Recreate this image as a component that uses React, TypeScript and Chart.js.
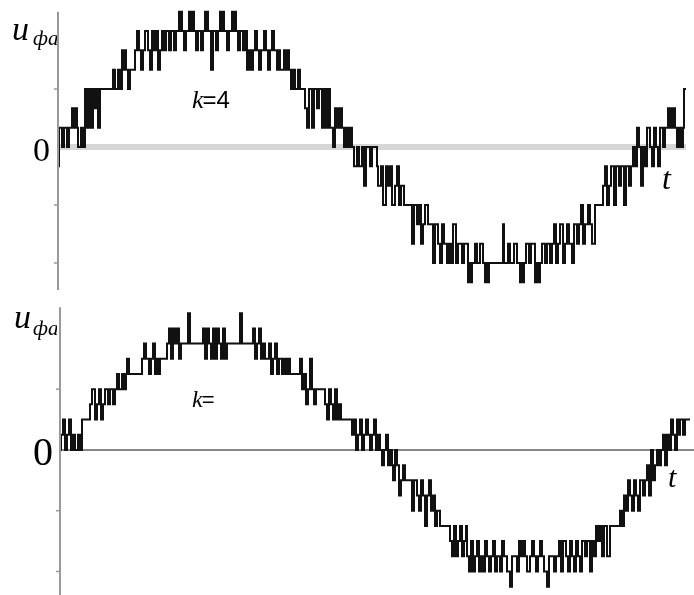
import { useEffect, useRef } from "react";
import { Chart, registerables } from "chart.js";

Chart.register(...registerables);

// Upper panel (k=4): [time, level] change points of the stepped phase voltage
const TOP_WAVE: [number, number][] = [
  [0, -1], [1, 1], [4, 0], [6, 1], [9, 0], [11, 1], [14, 2], [16, 1], [17, 2], [19, 1], [20, 0], [23, 1], [25, 0],
  [27, 3], [29, 1], [31, 3], [33, 1], [35, 3], [37, 2], [39, 3], [40, 1], [42, 3],
  [55, 4], [57, 3], [60, 4], [62, 3], [64, 5], [66, 4], [67, 5], [68, 4], [70, 3], [72, 4],
  [77, 5], [79, 6], [81, 5], [83, 4], [85, 5], [87, 6], [90, 5], [92, 4], [94, 6], [96, 5], [98, 6], [100, 4], [102, 5], [104, 6], [106, 5],
  [108, 6], [111, 5], [113, 6], [116, 5], [118, 6], [121, 7], [122, 6], [123, 7], [124, 6], [126, 5], [128, 6],
  [131, 7], [133, 6], [134, 7], [136, 6], [138, 5], [140, 6], [143, 5],
  [145, 6], [147, 7], [148, 6], [149, 7], [150, 6], [153, 4], [155, 6], [158, 5], [160, 6], [162, 7], [164, 6], [165, 7], [166, 6],
  [169, 5], [171, 6], [174, 7], [176, 6], [177, 7], [178, 6], [180, 5],
  [182, 6], [185, 5], [187, 6], [189, 4], [191, 5], [193, 4], [195, 5], [197, 6], [199, 5], [201, 4], [203, 5], [206, 6], [208, 5], [210, 4],
  [212, 5], [214, 6], [216, 5], [219, 4], [221, 5], [222, 4], [226, 5], [228, 4], [229, 5], [231, 4], [233, 3], [235, 4], [237, 3], [240, 4],
  [242, 3], [247, 2], [249, 1], [251, 3], [254, 1], [256, 3], [259, 2], [261, 3], [264, 1], [266, 3], [268, 1], [270, 3],
  [272, 1], [275, 0], [277, 2], [279, 1], [280, 2], [282, 1], [283, 2], [284, 1], [286, 0], [288, 1], [290, 0], [292, 1],
  [294, 0], [296, -1], [299, 0], [301, -1], [304, 0], [306, -2], [308, 0], [312, -1], [314, 0],
  [319, -1], [320, -2], [323, -1], [325, -3], [328, -1], [330, -2], [332, -1], [334, -3], [337, -2], [339, -1], [341, -3], [343, -2],
  [346, -3], [354, -5], [356, -3], [359, -4], [361, -3], [363, -5], [365, -4], [367, -3],
  [370, -4], [375, -6], [377, -4], [380, -5], [382, -6], [384, -4], [386, -5], [389, -6], [391, -5], [393, -6], [395, -4], [398, -6],
  [400, -5], [404, -6], [406, -5], [410, -7], [412, -6], [413, -7], [414, -6], [417, -5], [419, -6], [422, -5], [425, -6],
  [427, -7], [429, -6], [430, -7], [431, -6], [445, -4], [446, -6], [450, -5], [452, -6], [456, -5], [459, -6],
  [462, -7], [464, -6], [465, -7], [466, -6], [468, -5], [471, -6], [473, -5],
  [477, -7], [479, -6], [480, -7], [482, -6], [484, -5], [487, -6], [489, -5], [492, -6],
  [494, -5], [496, -4], [498, -6], [500, -5], [502, -4], [505, -6], [507, -5], [509, -4], [511, -5], [514, -6], [516, -4], [519, -5],
  [521, -4], [523, -3], [525, -5], [527, -4], [530, -3], [532, -4], [534, -5],
  [537, -3], [545, -2], [547, -1], [549, -3], [551, -2], [553, -1], [556, -3], [558, -1], [561, -2], [563, -1], [566, -3], [568, -1], [571, -2], [573, -1],
  [575, 0], [577, -1], [579, 1], [581, 0], [583, -2], [585, 0], [587, -1], [589, 1], [592, 0], [594, -1], [596, 1], [598, 0], [600, -1],
  [602, 1], [605, 0], [607, 1], [610, 2], [612, 1], [613, 2], [615, 1], [616, 2], [617, 1], [619, 0], [621, 1], [623, 0], [625, 1],
  [626, 3], [628, 3],
];

// Lower panel: [time, level] change points
const BOTTOM_WAVE: [number, number][] = [
  [0, 0], [1, 1], [3, 2], [5, 0], [7, 1], [9, 2], [11, 0], [13, 1], [15, 0], [18, 1], [20, 0],
  [22, 2], [30, 3], [32, 4], [35, 2], [37, 3], [39, 4], [41, 2], [43, 3],
  [45, 4], [48, 3], [50, 4], [53, 3], [55, 4], [57, 5], [59, 4], [62, 5], [64, 4], [66, 5], [67, 6], [69, 5],
  [82, 6], [84, 7], [86, 6], [89, 5], [91, 6], [93, 7], [95, 5], [97, 6], [99, 5], [100, 6],
  [107, 7], [109, 8], [111, 6], [113, 8], [115, 7], [117, 8], [119, 6], [121, 7], [128, 9], [130, 7],
  [143, 8], [145, 6], [147, 8], [149, 7], [151, 6], [153, 8], [155, 6], [157, 8], [159, 7], [161, 6], [163, 8], [165, 6],
  [167, 7], [180, 9], [182, 7], [193, 8], [195, 6], [197, 7], [199, 8], [201, 6], [203, 7],
  [205, 6], [209, 7], [211, 5], [213, 6], [215, 7], [217, 5], [219, 6], [222, 5], [224, 6], [226, 5], [228, 6],
  [230, 5], [240, 6], [242, 4], [244, 5], [246, 3], [248, 4], [250, 6], [252, 4], [254, 3],
  [256, 4], [265, 3], [267, 2], [269, 4], [271, 3], [273, 2], [275, 4], [277, 2], [279, 3],
  [281, 2], [292, 1], [294, 2], [296, 0], [298, 1], [300, 2], [302, 0], [304, 1], [306, 2], [308, 1], [310, 0], [312, 1], [314, 2], [316, 0],
  [318, 1], [320, 0], [322, -1], [324, 0], [326, 1], [328, -1], [330, 0], [332, -1],
  [333, -2], [335, 0], [337, -1], [339, -3], [341, -2], [343, -1], [345, -2],
  [352, -4], [354, -2], [357, -3], [359, -4], [361, -2], [363, -3], [365, -5], [367, -3], [369, -2], [371, -4], [373, -3], [375, -5], [377, -4],
  [380, -5], [390, -6], [392, -7], [394, -5], [396, -7], [398, -6], [400, -5], [402, -7], [404, -6], [406, -5],
  [407, -7], [409, -8], [411, -6], [413, -8], [415, -7], [417, -6], [419, -8], [421, -7], [423, -8], [425, -6], [427, -7], [429, -8],
  [431, -7], [433, -6], [435, -8], [437, -7], [440, -8], [442, -6], [444, -7], [447, -8], [450, -9], [452, -7], [455, -7], [457, -8], [459, -6],
  [461, -7], [463, -6], [465, -7], [467, -8], [470, -7], [472, -6], [474, -7], [476, -8], [478, -7], [480, -6], [482, -7], [484, -8],
  [487, -9], [489, -7], [492, -7], [494, -8], [496, -7], [499, -6], [501, -8],
  [503, -6], [506, -7], [508, -8], [510, -6], [512, -7], [514, -8], [516, -6], [518, -7], [520, -8], [522, -6], [525, -7], [527, -6],
  [530, -8], [532, -6], [534, -7], [536, -5], [538, -6], [540, -5], [542, -7], [544, -5], [547, -7], [550, -5],
  [560, -4], [562, -5], [564, -3], [566, -4], [568, -2], [570, -3], [572, -4], [574, -2], [576, -3], [578, -4],
  [580, -2], [583, -3], [585, -2], [587, -1], [589, -3], [591, 0], [593, -2], [595, -1], [597, 0], [599, -1],
  [601, 0], [603, 1], [605, -1], [607, 1], [609, 0], [611, 2], [613, 1], [615, 0], [617, 2], [619, 1],
  [620, 2], [623, 1], [625, 2], [630, 2],
];

const TOP_TICKS = [3, -3, -6];
const BOTTOM_TICKS = [4, -4, -8];
const Y_LABEL = "u";
const Y_SUB = "фа";
const K_LABEL = "k";
const TOP_K_REST = "=4";
const BOTTOM_K_REST = "=";
const T_LABEL = "t";
const ZERO_LABEL = "0";

type Decor = {
  zeroColor: string;
  zeroWidth: number;
  axisTop: number;
  axisBottom: number;
  ticks: number[];
  u: { x: number; y: number; size: number };
  sub: { x: number; y: number; size: number; clip: number };
  zero: { x: number; y: number; size: number };
  k: { x: number; y: number; size: number; rest: string; restSize: number };
  t: { x: number; y: number; size: number };
};

function makePlugin(d: Decor) {
  return {
    id: "decor",
    beforeDatasetsDraw(chart: any) {
      const ctx = chart.ctx as CanvasRenderingContext2D;
      const xs = chart.scales.x;
      const ys = chart.scales.y;
      const y0 = ys.getPixelForValue(0);
      ctx.save();
      ctx.strokeStyle = d.zeroColor;
      ctx.lineWidth = d.zeroWidth;
      ctx.beginPath();
      ctx.moveTo(xs.getPixelForValue(xs.min), y0);
      ctx.lineTo(xs.getPixelForValue(xs.max), y0);
      ctx.stroke();
      ctx.restore();
    },
    afterDatasetsDraw(chart: any) {
      const ctx = chart.ctx as CanvasRenderingContext2D;
      const xs = chart.scales.x;
      const ys = chart.scales.y;
      const ax = xs.getPixelForValue(xs.min);
      ctx.save();
      ctx.strokeStyle = "#9a9a9a";
      ctx.lineWidth = 2;
      ctx.beginPath();
      ctx.moveTo(ax, ys.getPixelForValue(d.axisTop));
      ctx.lineTo(ax, ys.getPixelForValue(d.axisBottom));
      ctx.stroke();
      ctx.lineWidth = 1.5;
      d.ticks.forEach((v) => {
        const py = ys.getPixelForValue(v);
        ctx.beginPath();
        ctx.moveTo(ax - 4, py);
        ctx.lineTo(ax, py);
        ctx.stroke();
      });
      ctx.fillStyle = "#000";
      ctx.textBaseline = "alphabetic";
      ctx.textAlign = "left";
      ctx.font = `italic ${d.u.size}px "Liberation Serif", "DejaVu Serif", serif`;
      ctx.fillText(Y_LABEL, d.u.x, d.u.y);
      ctx.save();
      ctx.beginPath();
      ctx.rect(0, 0, d.sub.clip, chart.height);
      ctx.clip();
      ctx.font = `italic ${d.sub.size}px "Liberation Serif", "DejaVu Serif", serif`;
      ctx.fillText(Y_SUB, d.sub.x, d.sub.y);
      ctx.restore();
      ctx.font = `${d.zero.size}px "Liberation Serif", "DejaVu Serif", serif`;
      ctx.fillText(ZERO_LABEL, d.zero.x, d.zero.y);
      ctx.font = `italic ${d.k.size}px "Liberation Serif", "DejaVu Serif", serif`;
      ctx.fillText(K_LABEL, d.k.x, d.k.y);
      const kw = ctx.measureText(K_LABEL).width;
      ctx.font = `${d.k.restSize}px "Liberation Sans", Arial, sans-serif`;
      ctx.fillText(d.k.rest, d.k.x + kw - 1, d.k.y);
      ctx.font = `italic ${d.t.size}px "Liberation Serif", "DejaVu Serif", serif`;
      ctx.fillText(T_LABEL, d.t.x, d.t.y);
      ctx.restore();
    },
  };
}

function buildChart(
  canvas: HTMLCanvasElement,
  wave: [number, number][],
  xMax: number,
  yMin: number,
  yMax: number,
  padding: { left: number; right: number; top: number; bottom: number },
  lineWidth: number,
  decor: Decor
) {
  return new Chart(canvas, {
    type: "line",
    data: {
      datasets: [
        {
          data: wave.map(([t, v]) => ({ x: t, y: v })),
          stepped: true,
          borderColor: "#111111",
          borderWidth: lineWidth,
          pointRadius: 0,
          fill: false,
          tension: 0,
        },
      ],
    },
    options: {
      animation: false,
      responsive: false,
      devicePixelRatio: 1,
      layout: { padding },
      plugins: { legend: { display: false }, tooltip: { enabled: false }, title: { display: false } },
      scales: {
        x: { type: "linear", min: 0, max: xMax, display: false },
        y: { type: "linear", min: yMin, max: yMax, display: false },
      },
    },
    plugins: [makePlugin(decor)],
  } as any);
}

export default function App() {
  const topRef = useRef<HTMLCanvasElement>(null);
  const botRef = useRef<HTMLCanvasElement>(null);

  useEffect(() => {
    const top = buildChart(
      topRef.current!,
      TOP_WAVE,
      628,
      -7.5,
      7.5,
      { left: 58, right: 8, top: 2, bottom: 3 },
      2,
      {
        zeroColor: "#d6d6d6",
        zeroWidth: 6,
        axisTop: 7.0,
        axisBottom: -7.4,
        ticks: TOP_TICKS,
        u: { x: 12, y: 40, size: 34 },
        sub: { x: 33, y: 45, size: 21, clip: 57 },
        zero: { x: 33, y: 161, size: 34 },
        k: { x: 192, y: 108, size: 26, rest: TOP_K_REST, restSize: 24 },
        t: { x: 662, y: 189, size: 32 },
      }
    );
    const bottom = buildChart(
      botRef.current!,
      BOTTOM_WAVE,
      634,
      -9.55,
      10.2,
      { left: 60, right: 0, top: 0, bottom: 0 },
      2,
      {
        zeroColor: "#888888",
        zeroWidth: 2,
        axisTop: 9.4,
        axisBottom: -9.55,
        ticks: BOTTOM_TICKS,
        u: { x: 14, y: 33, size: 34 },
        sub: { x: 33, y: 40, size: 21, clip: 57 },
        zero: { x: 33, y: 170, size: 40 },
        k: { x: 192, y: 112, size: 24, rest: BOTTOM_K_REST, restSize: 22 },
        t: { x: 668, y: 192, size: 30 },
      }
    );
    return () => {
      top.destroy();
      bottom.destroy();
    };
  }, []);

  return (
    <div style={{ position: "absolute", left: 0, top: 0, width: 694, height: 595, background: "#fff" }}>
      <canvas ref={topRef} width={694} height={295} style={{ display: "block", width: 694, height: 295 }} />
      <canvas ref={botRef} width={694} height={300} style={{ display: "block", width: 694, height: 300 }} />
    </div>
  );
}
